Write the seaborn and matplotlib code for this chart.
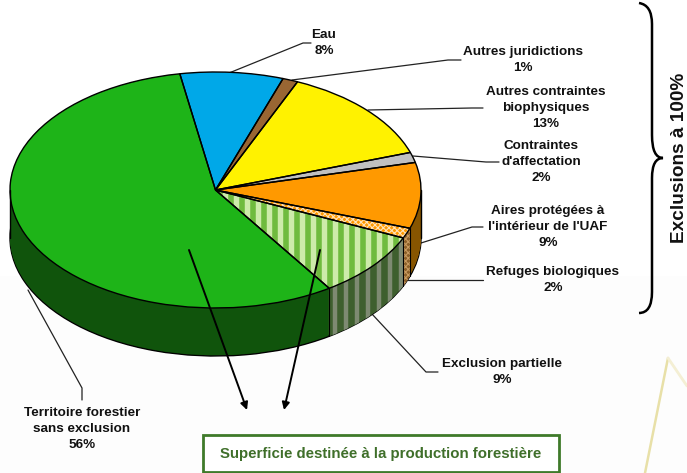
import matplotlib
matplotlib.use("Agg")
import matplotlib.pyplot as plt
from matplotlib.patches import Polygon, PathPatch, Rectangle
from matplotlib.path import Path
import numpy as np
import seaborn as sns

sns.set_theme(style="white")
plt.rcParams['font.family'] = ['Liberation Sans', 'DejaVu Sans']
plt.rcParams['hatch.linewidth'] = 0.8

# wedge shares (the printed labels are rounded)
names = ["Eau", "Autres juridictions", "Autres contraintes\nbiophysiques",
         "Contraintes\nd'affectation", "Aires protégées à\nl'intérieur de l'UAF",
         "Refuges biologiques", "Exclusion partielle",
         "Territoire forestier\nsans exclusion"]
shares = [8.1, 1.2, 13.3, 1.4, 9.0, 1.4, 9.0, 56.5]
printed = ["8%", "1%", "13%", "2%", "9%", "2%", "9%", "56%"]

top_colors = sns.color_palette(["#00A8E8", "#996633", "#FFF200", "#C0C0C0",
                                "#FF9900", "#FF9900", "#CDEBAA", "#1EB418"])
wall_colors = sns.color_palette(["#00608A", "#5A3A1A", "#8A8400", "#707070",
                                 "#875500", "#8C5F28", "#3E5F2E", "#10540C"])

W, H = 687, 473
CX, CY, RX, RY, DEPTH = 215.5, 190, 205.5, 118, 48


def pixel_axes(z):
    a = fig.add_axes([0, 0, 1, 1], zorder=z)
    a.set_xlim(0, W)
    a.set_ylim(H, 0)
    a.axis("off")
    a.patch.set_alpha(0)
    return a


fig = plt.figure(figsize=(W / 100, H / 100), dpi=100)
under = pixel_axes(0)
ax = fig.add_axes([0, 0, 1, 1], zorder=1)
over = pixel_axes(2)

# page background and the gold corner decoration
under.add_patch(Rectangle((0, 276), W, H - 276, color="#FDFDFD", lw=0))
under.plot([668, 645], [358, 473], color="#E8E0A8", lw=1.8)
under.plot([668, 687], [358, 386], color="#F4EFD4", lw=2)

# leader lines
leaders = [
    ([229, 303, 311], [73, 43, 43]),
    ([292, 448, 461], [80, 60, 60]),
    ([368, 472, 483], [110, 108, 108]),
    ([413, 486, 499], [156, 162, 162]),
    ([421, 472, 483], [243, 227, 227]),
    ([408, 470, 483], [280, 280, 280]),
    ([372, 426, 438], [314, 372, 372]),
    ([28, 82, 82], [290, 388, 400]),
]
for lx, ly in leaders:
    under.plot(lx, ly, color="#222222", lw=0.9)

# extruded side of the pie, stacked from the bottom up
for d in range(DEPTH, 0, -1):
    wedges, _ = ax.pie(shares, colors=wall_colors, startangle=100, counterclock=False,
                       center=(0, -d / RY), wedgeprops={"linewidth": 0})
    if d == DEPTH:
        for w in wedges:
            w.set_edgecolor("black")
            w.set_linewidth(1.0)


def wall_patch(t1, t2, **kw):
    t = np.radians(np.linspace(t1, t2, 60))
    xs, ys = np.cos(t), np.sin(t)
    pts = np.r_[np.c_[xs, ys], np.c_[xs[::-1], ys[::-1] - DEPTH / RY]]
    return Polygon(pts, closed=True, **kw)


top, _ = ax.pie(shares, colors=top_colors, startangle=100, counterclock=False,
                wedgeprops={"linewidth": 0})
top[5].set_hatch("xxxxxx")
top[5].set_edgecolor("#FFE2B8")

# vertical stripes on the "exclusion partielle" slice, top and side
stripe_px = np.arange(220, 420, 11)
stripe_x = (stripe_px - CX) / RX
st = ax.vlines(stripe_x, -2, 2, color="#6FBB3E", lw=4.0, zorder=2)
st.set_clip_path(top[6])
side = wall_patch(top[6].theta1, top[6].theta2, facecolor="#3E5F2E", lw=0, zorder=2)
ax.add_patch(side)
st2 = ax.vlines(stripe_x + 5.5 / RX, -2, 2, color="#7E8A72", lw=3.2, zorder=2.1)
st2.set_clip_path(side)
ax.add_patch(wall_patch(top[5].theta1, top[5].theta2, facecolor="#8C5F28",
                        edgecolor="#C89A60", hatch="xxxxxx", lw=0, zorder=2))

# outlines
ax.pie(shares, startangle=100, counterclock=False,
       wedgeprops={"fill": False, "edgecolor": "black", "linewidth": 1.0, "zorder": 3})
for th in (top[6].theta1, top[6].theta2, top[5].theta2):
    t = np.radians(th)
    ax.plot([np.cos(t)] * 2, [np.sin(t), np.sin(t) - DEPTH / RY], color="black", lw=0.8, zorder=3)
for sx in (-1, 1):
    ax.plot([sx, sx], [0, -DEPTH / RY], color="black", lw=1.0, zorder=3)

ax.set_aspect("auto")
ax.set_xlim((0 - CX) / RX, (W - CX) / RX)
ax.set_ylim((CY - H) / RY, CY / RY)
ax.axis("off")
ax.patch.set_alpha(0)

# labels
label_pos = [(324, 43), (523, 60), (546, 108), (541, 162), (548, 227),
             (553, 280), (502, 372), (82, 429)]
for nm, pc, (lx, ly) in zip(names, printed, label_pos):
    over.text(lx, ly, nm + "\n" + pc, ha="center", va="center", fontsize=9.7,
              fontweight="bold", color="#111111", linespacing=1.42)

# arrows towards the box
for x0, x1 in [(189, 247), (320, 284)]:
    over.annotate("", xy=(x1, 410), xytext=(x0, 250),
                  arrowprops=dict(arrowstyle="-|>", color="black", lw=1.4, shrinkA=0, shrinkB=0,
                                  mutation_scale=11))

over.add_patch(Rectangle((203, 435), 356, 37, facecolor="white", edgecolor="#3F7A2A", lw=2))
over.text(381, 454, "Superficie destinée à la production forestière", ha="center", va="center",
          fontsize=10.8, fontweight="bold", color="#3F6F2A")

# brace and side title
brace = Path([(639, 3), (652, 5), (652, 24), (652, 135), (652, 158), (663, 158),
              (652, 158), (652, 178), (652, 292), (652, 313), (639, 313)],
             [Path.MOVETO, Path.CURVE3, Path.CURVE3, Path.LINETO, Path.CURVE3, Path.CURVE3,
              Path.CURVE3, Path.CURVE3, Path.LINETO, Path.CURVE3, Path.CURVE3])
over.add_patch(PathPatch(brace, fill=False, edgecolor="black", lw=1.8))
over.text(679, 158, "Exclusions à 100%", rotation=90, ha="center", va="center",
          fontsize=13.7, fontweight="bold", color="#111111")

fig.savefig("out.png", dpi=100)
